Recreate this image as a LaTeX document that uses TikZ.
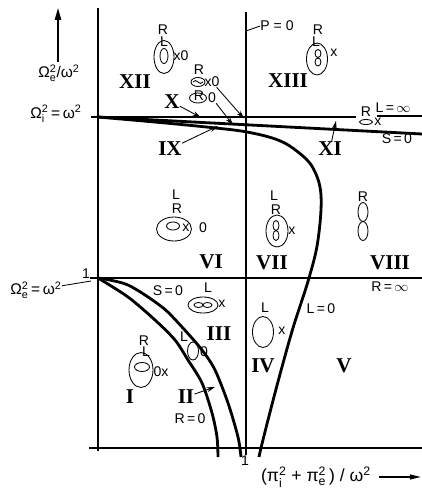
\documentclass[tikz,border=0pt]{standalone}
\usepackage{amsmath}
\usepackage{fontspec}
\setsansfont{Liberation Sans}
\newfontfamily\numfont{Liberation Serif}
\usetikzlibrary{arrows.meta}

\begin{document}
\begin{tikzpicture}[x=0.25mm,y=-0.25mm,
  every node/.style={font=\fontsize{10}{11}\selectfont\sffamily,inner sep=0pt},
  roman/.style={font=\fontsize{15}{17}\selectfont\numfont\bfseries},
  axlabel/.style={font=\fontsize{11}{12}\selectfont\sffamily},
  axis/.style={line width=1.1pt},
  cutoff/.style={line width=2pt},
  wns/.style={line width=0.6pt},
  lead/.style={line width=0.6pt,-{Stealth[length=6pt,width=3.5pt]}}]
\useasboundingbox (0,0) rectangle (422,498);
% axes and resonance lines
\draw[axis] (98,451) -- (98,8);
\draw[axis] (89,448) -- (422,448);
\draw[axis] (246,455) -- (246,12);
\draw[axis] (91,117) -- (356,117);
\draw[axis] (377,116) -- (422,116);
\draw[axis] (90,278) -- (422,278);
% cutoff curves
\draw[cutoff] (98,117) -- (422,134);
\draw[cutoff] plot[smooth,tension=0.6] coordinates {(98,117) (160,122.5) (211,127.5) (247,132) (278,140) (298,152) (313,168) (321,195) (318,240) (309,278) (293,328) (279,378) (268,420) (261,448) (259,457)};
\draw[cutoff] plot[smooth] coordinates {(98,278) (128,297) (155,320) (175,340) (188,360) (202,383) (212,413) (217,437) (218,457)};
\draw[cutoff] plot[smooth] coordinates {(98,278) (128,285) (162,307) (182,327) (202,350) (215,370) (228,403) (238,437) (241,457)};
% axis labels
\node[axlabel] (ye) at (59,73) {Ω$^{\text{2}}_{\text{e}}$/ω$^{\text{2}}$};
\node[axlabel] (yi) at (56,114) {Ω$^{\text{2}}_{\text{i}}$\,=\,ω$^{\text{2}}$};
\node[axlabel] (ye2) at (36,290) {Ω$^{\text{2}}_{\text{e}}$\,=\,ω$^{\text{2}}$};
\node[axlabel,font=\fontsize{12.5}{14}\selectfont\sffamily] (xl) at (316,477) {(π$^{\text{2}}_{\text{i}}$ + π$^{\text{2}}_{\text{e}}$\,) / ω$^{\text{2}}$};
\node (one) at (86,274) {1};
\node (onex) at (245,461) {1};
\coordinate (ya) at (58,62); \coordinate (yb) at (58,8);
\coordinate (xa) at (379,477); \coordinate (xb) at (421,477);
\draw[axis,-{Triangle[length=8.5pt,width=4.5pt]}] (ya) -- (yb);
\draw[axis,-{Triangle[length=8pt,width=3.5pt]}] (xa) -- (xb);
\coordinate (ce) at (91,281);
\draw[wns] (ye2) -- (ce);
% region numbers
\foreach \t/\n/\x/\y in {I/r1/130/397, II/r2/186/397, III/r3/219/334, IV/r4/263/366, V/r5/344/366, VI/r6/211/262, VII/r7/272/263, VIII/r8/390/263, IX/r9/170/149, X/r10/172/102, XI/r11/330/149, XII/r12/135/82, XIII/r13/288/81}
  \node[roman] (\n) at (\x,\y) {\t};
% curve names
\foreach \t/\n/\x/\y in {P = 0/lp/277/26, L\,=\,$\infty$/lli/393/108, S\,=\,0/lsu/397/139, S\,=\,0/lsl/168/291, R\,=\,0/lr0/190/419, R\,=\,$\infty$/lri/390/287, L\,=\,0/ll0/321/309}
  \node (\n) at (\x,\y) {\t};
\coordinate (ph) at (246,31);
\draw[wns] (ph) -- (lp.west);
% wave normal surfaces
\foreach \t/\n/\x/\y in {R/w12r/163/30, L/w12l/164/42, x0/w12x/181/56, R/w10r/199/70, x0/w10x/212/82, R/w9r/199/96, 0/w9x/212/98, R/w13r/318/30, L/w13l/316/42, x/w13x/334/53, R/w11r/366/112, x/w11x/378/122, L/w6l/176/195, R/w6r/177/209, x/w6x/186/228, 0/w6z/203/228, L/w7l/274/196, R/w7r/276/210, x/w7x/292/231, R/w8r/363/197, L/w3l/208/288, x/w3x/222/304, L/w2l/184/337, 0/w2z/204/352, R/w1r/144/341, L/w1l/146/352, 0x/w1x/161/372, L/w4l/265/308, x/w4x/282/331}
  \node (\n) at (\x,\y) {\t};
\foreach \x/\y/\rx/\ry in {164/57/10/16.5, 164/56/4/7.5, 198/82/7/4.5, 198/98/8.5/5, 317/59/10.5/16, 318/53.5/3/4, 318/62/3/4, 366/122/6.5/2.5, 174/229/17.5/12, 173/226/6.5/4, 277/231/11/16, 276/225.5/3/5, 276/235.5/3/5, 363/212/5/9.5, 363/231/5/9.5, 203/305/15/8, 198.5/305/4.5/2.5, 207.5/305/4.5/2.5, 193/351/5.5/9, 141/370/12/17.5, 142/367/7.5/4.5, 263/332/10.5/15.5}
  \draw[wns] (\x,\y) ellipse [x radius=\rx, y radius=\ry];
\draw[wns] (193,82) sin (195.5,80.5) cos (198,82) sin (200.5,83.5) cos (203,82);
% leaders to the thin regions
\coordinate (e10) at (201,117.5);
\coordinate (e9) at (218,126);
\coordinate (e11) at (336,121);
\coordinate (e2) at (215,387);
\coordinate (ea) at (244,118.5);
\coordinate (eb) at (233,125);
\draw[lead] (r10) -- (e10);
\draw[lead] (r9) -- (e9);
\draw[lead] (r11) -- (e11);
\draw[lead] (r2) -- (e2);
\draw[lead] (w10x) -- (ea);
\draw[lead] (w9x) -- (eb);
\end{tikzpicture}
\end{document}
